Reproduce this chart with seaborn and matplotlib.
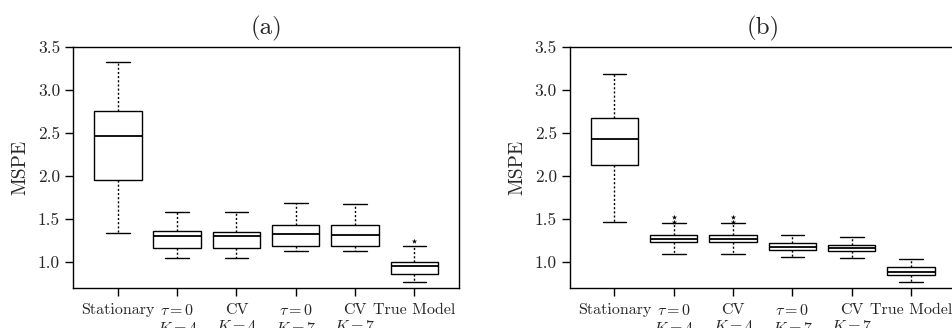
import pandas as pd
import numpy as np
import matplotlib
matplotlib.use('Agg')
import matplotlib.pyplot as plt
import seaborn as sns

# ── Data ───────────────────────────────────────────────────
methods = ['Stationary', '$\\tau=0$\n$K=4$', 'CV\n$K=4$',
           '$\\tau=0$\n$K=7$', 'CV\n$K=7$', 'True Model']

# panel (a): whisker low, Q1, median, Q3, whisker high
a_low  = [1.34, 1.05, 1.05, 1.13, 1.13, 0.77]
a_q1   = [1.95, 1.17, 1.17, 1.19, 1.19, 0.86]
a_med  = [2.47, 1.30, 1.30, 1.33, 1.32, 0.95]
a_q3   = [2.76, 1.36, 1.35, 1.43, 1.43, 1.00]
a_high = [3.33, 1.58, 1.58, 1.69, 1.67, 1.19]
a_out_method = ['True Model']
a_out_value  = [1.25]

# panel (b)
b_low  = [1.47, 1.10, 1.10, 1.06, 1.05, 0.77]
b_q1   = [2.13, 1.23, 1.23, 1.14, 1.13, 0.85]
b_med  = [2.43, 1.27, 1.27, 1.18, 1.17, 0.89]
b_q3   = [2.68, 1.32, 1.32, 1.22, 1.20, 0.94]
b_high = [3.19, 1.45, 1.45, 1.31, 1.29, 1.04]
b_out_method = [methods[1], methods[1], methods[2], methods[2]]
b_out_value  = [1.53, 1.47, 1.53, 1.47]

yticks = [1.0, 1.5, 2.0, 2.5, 3.0, 3.5]


def long_frame(low, q1, med, q3, high):
    # five points per method -> quartiles land exactly on q1/med/q3
    rows = []
    for i, m in enumerate(methods):
        for v in (low[i], q1[i], med[i], q3[i], high[i]):
            rows.append((m, v))
    return pd.DataFrame(rows, columns=['method', 'MSPE'])


# ── Style ──────────────────────────────────────────────────
sns.set_style('ticks')
plt.rcParams['font.family'] = 'serif'
plt.rcParams['font.serif'] = ['cmr10']
plt.rcParams['mathtext.fontset'] = 'cm'
plt.rcParams['axes.formatter.use_mathtext'] = True
plt.rcParams['axes.unicode_minus'] = False

fig = plt.figure(figsize=(9.52, 3.28), dpi=100)
ax_a = fig.add_axes([0.077, 0.122, 0.405, 0.735])
ax_b = fig.add_axes([0.5987, 0.122, 0.405, 0.735])

panels = [
    (ax_a, '(a)', long_frame(a_low, a_q1, a_med, a_q3, a_high),
     pd.DataFrame({'method': a_out_method, 'MSPE': a_out_value})),
    (ax_b, '(b)', long_frame(b_low, b_q1, b_med, b_q3, b_high),
     pd.DataFrame({'method': b_out_method, 'MSPE': b_out_value})),
]

for ax, title, df, out in panels:
    sns.boxplot(data=df, x='method', y='MSPE', order=methods, ax=ax,
                whis=(0, 100), width=0.8, color='white', linecolor='black',
                linewidth=1.0, showfliers=False,
                whiskerprops={'linestyle': (0, (1.5, 1.5))},
                medianprops={'linewidth': 1.3})
    sns.stripplot(data=out, x='method', y='MSPE', order=methods, ax=ax,
                  jitter=False, marker='*', color='black', size=4)
    ax.set_xlim(-0.75, 5.75)
    ax.set_ylim(0.7, 3.5)
    ax.set_yticks(yticks)
    ax.set_yticklabels([f'{t:.1f}' for t in yticks])
    ax.set_xlabel('')
    ax.set_ylabel('MSPE', fontsize=14, labelpad=6)
    ax.set_title(title, fontsize=18, pad=9)
    ax.tick_params(axis='both', direction='out', length=6, width=1,
                   color='black')
    ax.tick_params(axis='x', labelsize=11.5, pad=5)
    ax.tick_params(axis='y', labelsize=12.5)
    for s in ax.spines.values():
        s.set_visible(True)
        s.set_color('black')
        s.set_linewidth(1.0)

plt.savefig('out.png', dpi=100)
